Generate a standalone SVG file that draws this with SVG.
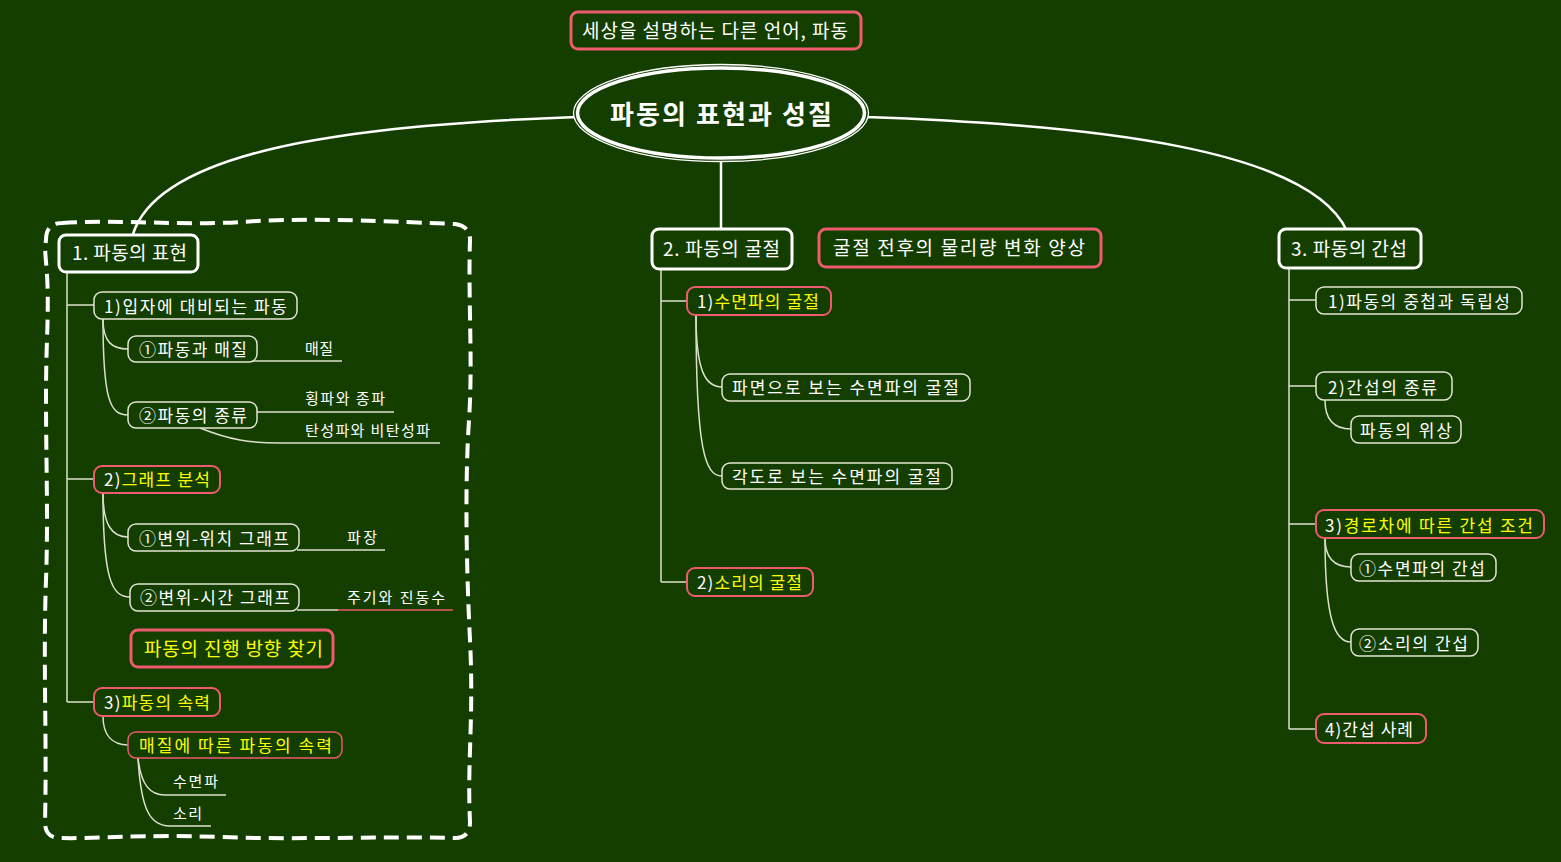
<svg xmlns="http://www.w3.org/2000/svg" width="1561" height="862" viewBox="0 0 1561 862">
<style>
.t{font-family:"Noto Sans CJK KR","Noto Sans",sans-serif;fill:#ffffff;dominant-baseline:central}
.f14{font-size:15px}.f16{font-size:17px}.f18{font-size:19px}
.y{fill:#ffff00}
.main{fill:#143e00;stroke:#ffffff;stroke-width:3}
.sub{fill:#143e00;stroke:#e2e4d4;stroke-width:1.5}
.pk{fill:#143e00;stroke:#ee5a6e;stroke-width:2}
.pk3{fill:#143e00;stroke:#ee5a6e;stroke-width:3}
.c{fill:none;stroke:#dcdfcc;stroke-width:1.5}
.cp{fill:none;stroke:#ee5a6e;stroke-width:1.5}
.big{fill:none;stroke:#ffffff;stroke-width:2.5}
</style>
<rect x="0" y="0" width="1561" height="862" fill="#143e00"/>

<g id="boundary">
<path d="M62,223 C120,219 180,226 240,222 S360,220 455,224 Q470,226 470,240 C468,300 473,360 469,420 S466,560 470,640 S467,760 470,822 Q470,838 455,838 C380,836 300,840 220,837 S100,839 60,838 Q45,838 45,822 C47,740 43,660 46,580 S44,420 47,340 S43,260 46,240 Q46,223 62,223 Z" fill="none" stroke="#ffffff" stroke-width="4" stroke-dasharray="15 8"/>
</g>

<g id="connectors">
<path class="big" d="M577,117 C350,125 160,150 133,234"/>
<path class="big" d="M866,117 C1100,125 1310,150 1347,231"/>
<path class="big" d="M721,162 V229"/>
<path class="c" d="M67,272 V702 M67,305 H94 M67,479 H94 M67,702 H94"/>
<path class="c" d="M103,319 C103,342 112,349 128,349"/>
<path class="c" d="M103,319 C103,400 110,415 128,415"/>
<path class="c" d="M103,493 C103,525 112,537 128,537"/>
<path class="c" d="M103,493 C103,580 112,597 130,597"/>
<path class="c" d="M103,716 C103,735 112,745 128,745"/>
<path class="c" d="M250,361 H342"/>
<path class="c" d="M257,412 H394"/>
<path class="c" d="M200,428 C230,440 250,443 280,443 H440"/>
<path class="c" d="M297,550 H385"/>
<path class="c" d="M297,610 H338"/>
<path class="cp" d="M338,610 H453"/>
<path class="c" d="M138,758 C141,785 150,795 165,795 H226"/>
<path class="c" d="M138,758 C141,810 150,826 170,826 H211"/>
<path class="c" d="M661,269 V582 M661,301 H687 M661,582 H687"/>
<path class="c" d="M696,315 C696,370 705,387 722,387"/>
<path class="c" d="M696,315 C696,450 705,476 722,476"/>
<path class="c" d="M1289,268 V729 M1289,300 H1316 M1289,386 H1316 M1289,524 H1316 M1289,729 H1316"/>
<path class="c" d="M1325,400 C1325,420 1335,429 1351,429"/>
<path class="c" d="M1325,538 C1325,558 1335,567 1351,567"/>
<path class="c" d="M1325,538 C1325,620 1335,642 1351,642"/>
</g>

<g id="n-title"><rect class="pk3" x="571" y="12" width="290" height="37" rx="7"/><text class="t f18" x="582" y="29" textLength="266">세상을 설명하는 다른 언어, 파동</text></g>

<g id="n-root">
<ellipse cx="721" cy="113" rx="147.5" ry="48.5" fill="#143e00" stroke="#ffffff" stroke-width="1.3"/>
<ellipse cx="721" cy="113" rx="143.5" ry="45" fill="none" stroke="#ffffff" stroke-width="3.5"/>
<text class="t" x="610" y="112" font-size="26" font-weight="bold" textLength="222">파동의 표현과 성질</text>
</g>

<g id="n1"><rect class="main" x="59" y="235" width="139" height="37" rx="7"/><text class="t f18" x="72" y="251" textLength="115">1. 파동의 표현</text></g>
<g id="n1-1"><rect class="sub" x="94" y="292" width="203" height="27" rx="8"/><text class="t f16" x="104" y="305" textLength="183">1)입자에 대비되는 파동</text></g>
<g id="n1-1-1"><rect class="sub" x="128" y="336" width="129" height="26" rx="8"/><text class="t f16" x="139" y="348" textLength="108">①파동과 매질</text></g>
<g id="l-1"><text class="t f14" x="305" y="347" textLength="28">매질</text></g>
<g id="n1-1-2"><rect class="sub" x="128" y="402" width="129" height="26" rx="8"/><text class="t f16" x="139" y="414" textLength="108">②파동의 종류</text></g>
<g id="l-2"><text class="t f14" x="305" y="397" textLength="80">횡파와 종파</text></g>
<g id="l-3"><text class="t f14" x="305" y="429" textLength="125">탄성파와 비탄성파</text></g>
<g id="n1-2"><rect class="pk" x="94" y="466" width="126" height="27" rx="8"/><text class="t f16" x="104" y="478" textLength="106">2)<tspan class="y">그래프 분석</tspan></text></g>
<g id="n1-2-1"><rect class="sub" x="128" y="524" width="171" height="27" rx="8"/><text class="t f16" x="139" y="537" textLength="150">①변위-위치 그래프</text></g>
<g id="l-4"><text class="t f14" x="347" y="536" textLength="30">파장</text></g>
<g id="n1-2-2"><rect class="sub" x="130" y="584" width="169" height="27" rx="8"/><text class="t f16" x="140" y="596" textLength="150">②변위-시간 그래프</text></g>
<g id="l-5"><text class="t f14" x="347" y="596" textLength="98">주기와 진동수</text></g>
<g id="n-find"><rect class="pk3" x="131" y="630" width="202" height="37" rx="7"/><text class="t f18 y" x="144" y="647" textLength="179">파동의 진행 방향 찾기</text></g>
<g id="n1-3"><rect class="pk" x="94" y="688" width="126" height="28" rx="8"/><text class="t f16" x="104" y="701" textLength="106">3)<tspan class="y">파동의 속력</tspan></text></g>
<g id="n1-3-1"><rect class="pk" style="stroke-width:1.5" x="128" y="732" width="214" height="26" rx="8"/><text class="t f16 y" x="139" y="744" textLength="193">매질에 따른 파동의 속력</text></g>
<g id="l-6"><text class="t f14" x="173" y="780" textLength="45">수면파</text></g>
<g id="l-7"><text class="t f14" x="173" y="812" textLength="29">소리</text></g>

<g id="n2"><rect class="main" x="652" y="229" width="140" height="40" rx="7"/><text class="t f18" x="663" y="247" textLength="117">2. 파동의 굴절</text></g>
<g id="n-refr"><rect class="pk3" x="819" y="229" width="282" height="38" rx="7"/><text class="t f18" x="833" y="246" textLength="252">굴절 전후의 물리량 변화 양상</text></g>
<g id="n2-1"><rect class="pk" x="687" y="287" width="144" height="28" rx="8"/><text class="t f16" x="697" y="300" textLength="122">1)<tspan class="y">수면파의 굴절</tspan></text></g>
<g id="n2-1-1"><rect class="sub" x="722" y="374" width="248" height="27" rx="8"/><text class="t f16" x="732" y="386" textLength="227">파면으로 보는 수면파의 굴절</text></g>
<g id="n2-1-2"><rect class="sub" x="722" y="463" width="230" height="26" rx="8"/><text class="t f16" x="732" y="475" textLength="209">각도로 보는 수면파의 굴절</text></g>
<g id="n2-2"><rect class="pk" x="687" y="568" width="126" height="28" rx="8"/><text class="t f16" x="697" y="581" textLength="105">2)<tspan class="y">소리의 굴절</tspan></text></g>

<g id="n3"><rect class="main" x="1279" y="229" width="142" height="39" rx="7"/><text class="t f18" x="1291" y="247" textLength="116">3. 파동의 간섭</text></g>
<g id="n3-1"><rect class="sub" x="1316" y="287" width="206" height="27" rx="8"/><text class="t f16" x="1328" y="300" textLength="182">1)파동의 중첩과 독립성</text></g>
<g id="n3-2"><rect class="sub" x="1316" y="372" width="136" height="28" rx="8"/><text class="t f16" x="1328" y="386" textLength="109">2)간섭의 종류</text></g>
<g id="n3-2-1"><rect class="sub" x="1351" y="416" width="110" height="27" rx="8"/><text class="t f16" x="1360" y="429" textLength="92">파동의 위상</text></g>
<g id="n3-3"><rect class="pk" x="1316" y="510" width="228" height="28" rx="8"/><text class="t f16" x="1325" y="524" textLength="208">3)<tspan class="y">경로차에 따른 간섭 조건</tspan></text></g>
<g id="n3-3-1"><rect class="sub" x="1351" y="554" width="145" height="27" rx="8"/><text class="t f16" x="1359" y="567" textLength="126">①수면파의 간섭</text></g>
<g id="n3-3-2"><rect class="sub" x="1351" y="629" width="127" height="27" rx="8"/><text class="t f16" x="1359" y="642" textLength="109">②소리의 간섭</text></g>
<g id="n3-4"><rect class="pk" x="1316" y="714" width="110" height="29" rx="8"/><text class="t f16" x="1325" y="728" textLength="88">4)간섭 사례</text></g>
</svg>
